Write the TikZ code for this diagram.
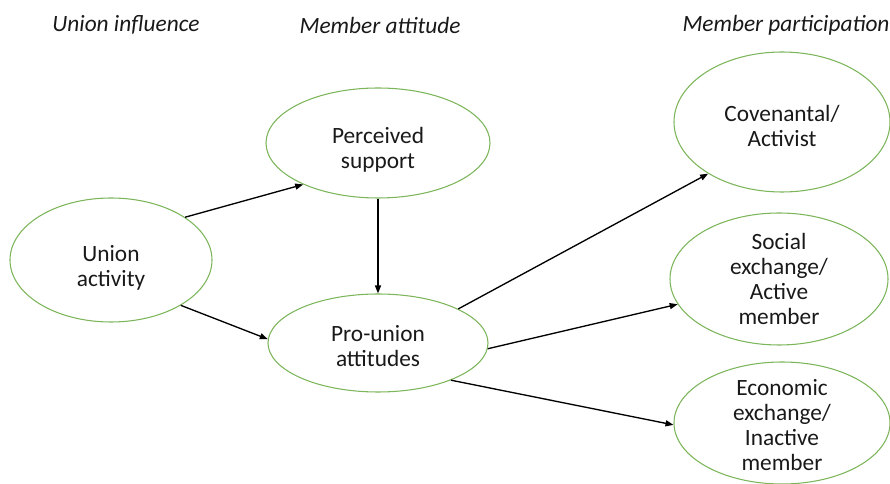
\documentclass[tikz,border=0pt]{standalone}
\usepackage{fontspec}
\setmainfont{Carlito}
\usetikzlibrary{shapes.geometric,arrows.meta}
\definecolor{ringgreen}{HTML}{7CB55A}
\tikzset{
  bubble/.style={ellipse, draw=ringgreen, line width=0.8pt, inner sep=0pt},
  bubbletext/.style={align=center, inner sep=0pt,
    font=\fontsize{17.5}{18.75}\selectfont, text=black!90},
  heading/.style={font=\fontsize{17.5}{18}\selectfont\itshape, text=black!90},
  link/.style={draw=black, line width=1pt, -{Triangle[length=6pt,width=4.5pt]}}
}
\begin{document}
\begin{tikzpicture}[x=0.75pt, y=-0.75pt]
\useasboundingbox (0,0) rectangle (890,484);

% column headings
\node[heading] (h1) at (126,25) {Union influence};
\node[heading] (h2) at (380,25) {Member attitude};
\node[heading] (h3) at (786,25) {Member participation};

% constructs: outlines
\node[bubble, minimum width=151.5pt, minimum height=93pt] (ua) at (111,260) {};
\node[bubble, minimum width=168pt, minimum height=82.5pt] (ps) at (378,143) {};
\node[bubble, minimum width=165pt, minimum height=73.5pt] (pu) at (378,343) {};
\node[bubble, minimum width=162pt, minimum height=105pt] (cv) at (782,122) {};
\node[bubble, minimum width=163.5pt, minimum height=99pt] (se) at (779,279) {};
\node[bubble, minimum width=162pt, minimum height=91.5pt] (ee) at (782,423) {};

% constructs: labels
\node[bubbletext] (uat) at ([yshift=-6pt]ua.center) {Union\\activity};
\node[bubbletext] (pst) at ([yshift=-5.25pt]ps.center) {Perceived\\support};
\node[bubbletext] (put) at ([yshift=-2.25pt]pu.center) {Pro-union\\attitudes};
\node[bubbletext] (cvt) at ([yshift=-3pt]cv.center) {Covenantal/\\Activist};
\node[bubbletext] (set) at (se.center) {Social\\exchange/\\Active\\member};
\node[bubbletext] (eet) at ([yshift=-1.5pt]ee.center) {Economic\\exchange/\\Inactive\\member};

% paths
\draw[link] (ua.30) -- (ps.-151);
\draw[link] (ua.-33) -- (pu.178);
\draw[link] (ps.south) -- (pu.north);
\draw[link] (pu.23) -- (cv.215);
\draw[link] (pu.-3) -- (se.194);
\draw[link] (pu.-27) -- (ee.181);
\end{tikzpicture}
\end{document}
